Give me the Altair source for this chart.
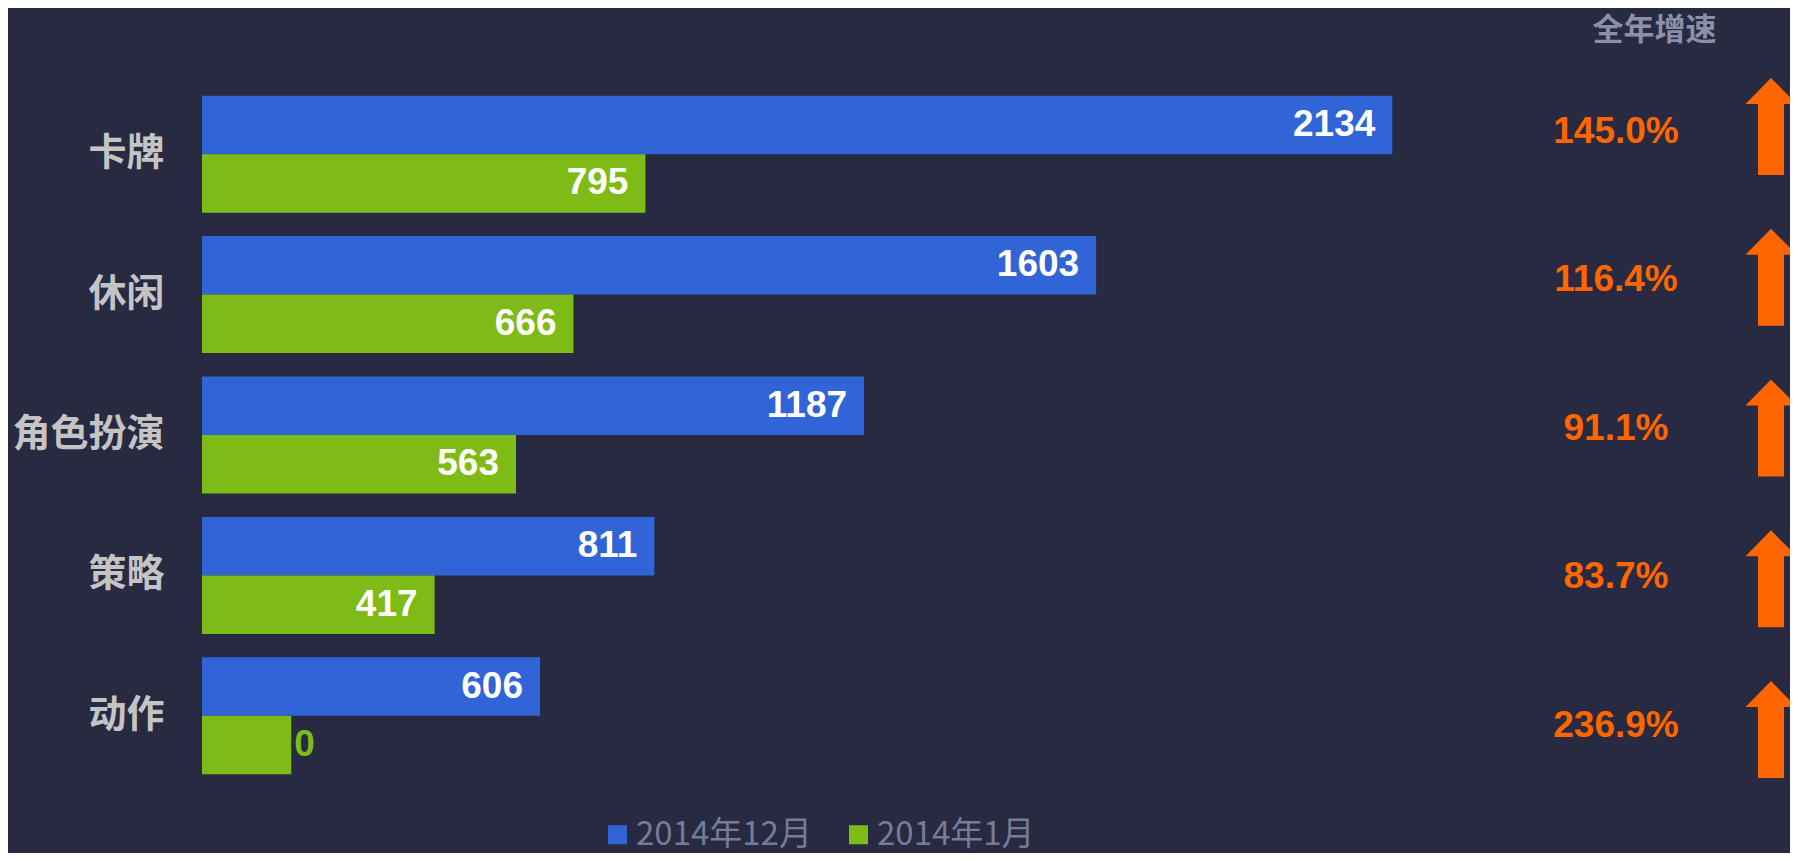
import altair as alt
import pandas as pd

categories = ["卡牌", "休闲", "角色扮演", "策略", "动作"]
series = ["2014年12月", "2014年1月"]
dec_values = [2134, 1603, 1187, 811, 606]
jan_values = [795, 666, 563, 417, 160]
jan_labels = ["795", "666", "563", "417", "0"]
growth_labels = ["145.0%", "116.4%", "91.1%", "83.7%", "236.9%"]
right_columns = ["pct", "arrow"]

BG = "#272a41"
BLUE = "#3164d6"
GREEN = "#7fbb17"
ORANGE = "#ff6600"

rows = []
for c, v in zip(categories, dec_values):
    rows.append({"category": c, "series": series[0], "value": v, "label": str(v)})
for c, v, l in zip(categories, jan_values, jan_labels):
    rows.append({"category": c, "series": series[1], "value": v, "label": l})
df = pd.DataFrame(rows)
df["inside"] = df["label"].astype(int) >= 100

right_df = pd.DataFrame({"category": categories, "growth": growth_labels})

W = 1588
H = 702

y_main = alt.Y(
    "category:N",
    sort=categories,
    scale=alt.Scale(paddingInner=0.167, paddingOuter=0.083),
    axis=alt.Axis(
        title=None, domain=False, ticks=False, grid=False,
        labelFontSize=38, labelFont="Noto Sans CJK SC", labelFontWeight="bold",
        labelColor="#c4c4c4", labelPadding=38,
    ),
)
y_off = alt.YOffset("series:N", sort=series, scale=alt.Scale(paddingInner=0, paddingOuter=0))
x_main = alt.X("value:Q", scale=alt.Scale(domain=[0, 2847], nice=False, zero=True), axis=None)

bars = alt.Chart(df).mark_bar().encode(
    y=y_main,
    yOffset=y_off,
    x=x_main,
    color=alt.Color(
        "series:N",
        sort=series,
        scale=alt.Scale(domain=series, range=[BLUE, GREEN]),
        legend=alt.Legend(
            title=None, orient="none", direction="horizontal",
            legendX=399, legendY=734,
            symbolType="square", symbolSize=361, symbolStrokeWidth=0,
            symbolOpacity=1,
            labelFont="Noto Sans CJK SC", labelFontSize=33, labelColor="#757b98",
            labelOffset=2, columnPadding=30, labelLimit=400,
        ),
    ),
)

text_in = alt.Chart(df).transform_filter("datum.inside").mark_text(
    align="right", baseline="middle", dx=-17, fontSize=37, fontWeight="bold",
    font="Liberation Sans", color="white",
).encode(y=y_main, yOffset=y_off, x=x_main, text="label:N")

text_out = alt.Chart(df).transform_filter("!datum.inside").mark_text(
    align="left", baseline="middle", dx=3, fontSize=37, fontWeight="bold",
    font="Liberation Sans", color=GREEN,
).encode(y=y_main, yOffset=y_off, x=x_main, text="label:N")

main = alt.layer(bars, text_in, text_out)

x_right = alt.X("col:N", scale=alt.Scale(type="point", domain=right_columns,
                                         padding=0, range=[1414, 1569]), axis=None)

pct = alt.Chart(right_df).transform_calculate(col="'pct'").mark_text(
    align="center", baseline="middle", fontSize=37, fontWeight="bold",
    font="Liberation Sans", color=ORANGE,
).encode(
    y=alt.Y("category:N", sort=categories,
            scale=alt.Scale(type="point", padding=0.362, align=0.443), axis=None),
    x=x_right, text="growth:N",
)

ARROW = "M0,-1 L0.526,-0.464 L0.268,-0.464 L0.268,1 L-0.268,1 L-0.268,-0.464 L-0.526,-0.464 Z"
arrows = alt.Chart(right_df).transform_calculate(col="'arrow'").mark_point(
    shape=ARROW, filled=True, size=9409, color=ORANGE, opacity=1, strokeWidth=0,
).encode(
    y=alt.Y("category:N", sort=categories,
            scale=alt.Scale(type="point", padding=0.328, align=0.429), axis=None),
    x=x_right,
)

chart = alt.layer(main, pct, arrows).resolve_scale(
    x="independent", y="independent"
).properties(
    width=W, height=H,
    autosize=alt.AutoSizeParams(type="none"),
    padding={"left": 194, "top": 76, "right": 0, "bottom": 67},
    background=BG,
    title=alt.TitleParams(
        "全年增速", anchor="end", dx=-80, offset=31, fontSize=31,
        font="Noto Sans CJK SC", fontWeight="bold", color="#8b90aa",
    ),
).configure_view(stroke=None)

chart.save("out.html", embed_options={"renderer": "svg", "actions": False})
